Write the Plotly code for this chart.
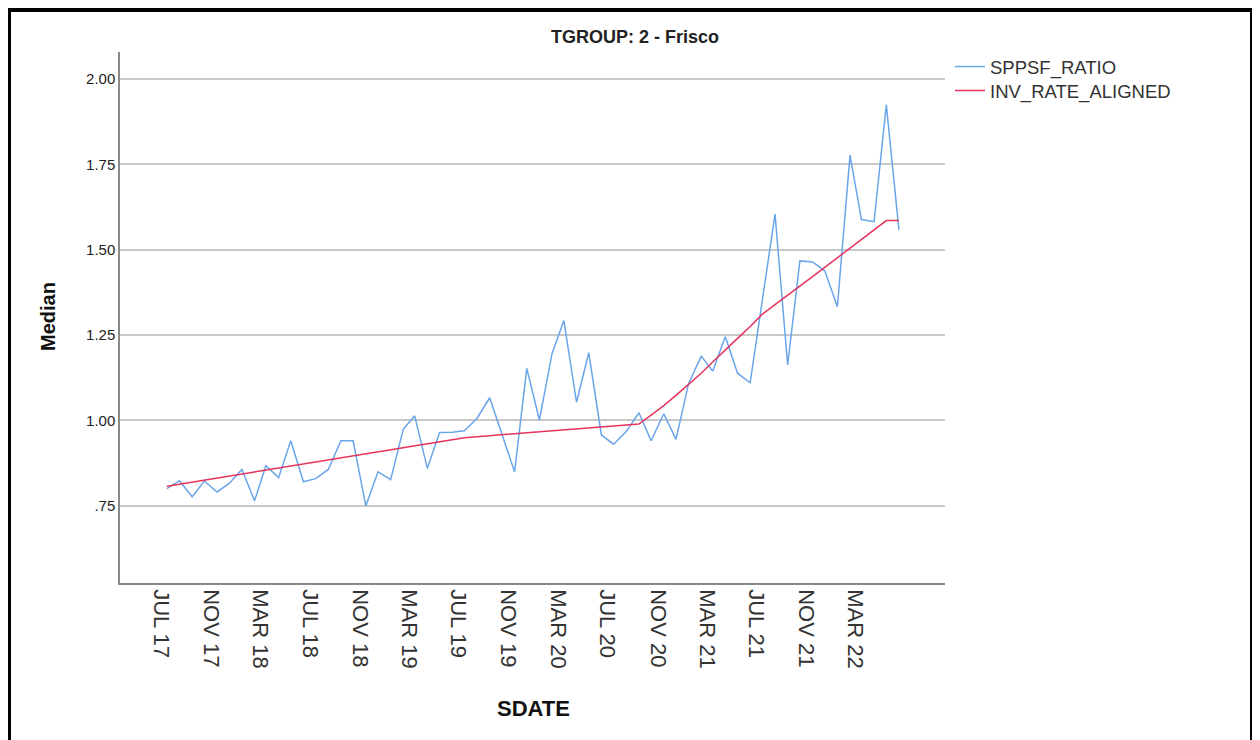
import plotly.graph_objects as go

# ---- data ----
months = [
    "2017-07", "2017-08", "2017-09", "2017-10", "2017-11", "2017-12",
    "2018-01", "2018-02", "2018-03", "2018-04", "2018-05", "2018-06",
    "2018-07", "2018-08", "2018-09", "2018-10", "2018-11", "2018-12",
    "2019-01", "2019-02", "2019-03", "2019-04", "2019-05", "2019-06",
    "2019-07", "2019-08", "2019-09", "2019-10", "2019-11", "2019-12",
    "2020-01", "2020-02", "2020-03", "2020-04", "2020-05", "2020-06",
    "2020-07", "2020-08", "2020-09", "2020-10", "2020-11", "2020-12",
    "2021-01", "2021-02", "2021-03", "2021-04", "2021-05", "2021-06",
    "2021-07", "2021-08", "2021-09", "2021-10", "2021-11", "2021-12",
    "2022-01", "2022-02", "2022-03", "2022-04", "2022-05", "2022-06",
]

sppsf_ratio = [
    0.800, 0.823, 0.776, 0.822, 0.790, 0.815, 0.856, 0.764, 0.867, 0.832,
    0.940, 0.820, 0.829, 0.856, 0.940, 0.940, 0.749, 0.849, 0.826, 0.974,
    1.013, 0.859, 0.964, 0.965, 0.969, 1.006, 1.066, 0.962, 0.849, 1.152,
    1.001, 1.196, 1.292, 1.053, 1.198, 0.957, 0.930, 0.967, 1.022, 0.940,
    1.019, 0.944, 1.108, 1.188, 1.144, 1.245, 1.138, 1.110, 1.357, 1.604,
    1.162, 1.467, 1.464, 1.438, 1.333, 1.777, 1.588, 1.582, 1.924, 1.558,
]

inv_rate_aligned = [
    0.807, 0.813, 0.819, 0.825, 0.831, 0.837, 0.843, 0.848, 0.854, 0.860,
    0.866, 0.872, 0.878, 0.884, 0.890, 0.896, 0.902, 0.908, 0.914, 0.919,
    0.925, 0.931, 0.937, 0.943, 0.949, 0.952, 0.955, 0.958, 0.961, 0.963,
    0.966, 0.969, 0.972, 0.975, 0.978, 0.980, 0.983, 0.986, 0.989, 1.015,
    1.043, 1.073, 1.105, 1.138, 1.171, 1.205, 1.240, 1.275, 1.311, 1.339,
    1.366, 1.394, 1.421, 1.448, 1.476, 1.503, 1.531, 1.558, 1.585, 1.585,
]

tick_months = ["2017-07", "2017-11", "2018-03", "2018-07", "2018-11", "2019-03",
               "2019-07", "2019-11", "2020-03", "2020-07", "2020-11", "2021-03",
               "2021-07", "2021-11", "2022-03"]
tick_labels = ["JUL 17", "NOV 17", "MAR 18", "JUL 18", "NOV 18", "MAR 19",
               "JUL 19", "NOV 19", "MAR 20", "JUL 20", "NOV 20", "MAR 21",
               "JUL 21", "NOV 21", "MAR 22"]

y_ticks = [0.75, 1.00, 1.25, 1.50, 1.75, 2.00]
y_tick_labels = [".75", "1.00", "1.25", "1.50", "1.75", "2.00"]

FONT = "Arial, 'Liberation Sans', sans-serif"

fig = go.Figure()
fig.add_trace(go.Scatter(x=months, y=sppsf_ratio, mode="lines", name="SPPSF_RATIO",
                         line=dict(color="#6aa5ea", width=1.5), legend="legend"))
fig.add_trace(go.Scatter(x=months, y=inv_rate_aligned, mode="lines", name="INV_RATE_ALIGNED",
                         line=dict(color="#e5335c", width=1.5), legend="legend2"))

W, H = 1260, 740
OFF = 8                      # page body margin added by the browser
L, R, T, B = 120, 945, 52, 583   # plot area in page pixels

def px_x(p):
    return (p - L) / (R - L)

def px_y(p):
    return (B - p) / (B - T)

legend_style = dict(xanchor="left", yanchor="top", font=dict(size=18.5, color="#333"),
                    bgcolor="rgba(0,0,0,0)")

fig.update_layout(
    width=W, height=H,
    margin=dict(l=L - OFF, r=W - R + OFF, t=T - OFF, b=H - B + OFF),
    paper_bgcolor="white", plot_bgcolor="white",
    font=dict(family=FONT, color="#222"),
    title=dict(text="<b>TGROUP: 2 - Frisco</b>", x=(635 - OFF) / W, xref="container",
               xanchor="center", y=1 - (37 - OFF) / H, yref="container", yanchor="middle",
               font=dict(size=18, color="#222")),
    showlegend=True,
    legend=dict(x=px_x(950), y=px_y(48), **legend_style),
    legend2=dict(x=px_x(950), y=px_y(72), **legend_style),
    xaxis=dict(type="date", range=["2017-03-08", "2022-09-22"],
               tickvals=tick_months, ticktext=tick_labels, tickangle=90,
               tickfont=dict(size=22, color="#333"), ticklabelshift=-6,
               showgrid=False, zeroline=False, showline=True,
               linecolor="#8a8a8a", linewidth=1.5, ticks=""),
    yaxis=dict(range=[0.5233, 2.079], tickvals=y_ticks, ticktext=y_tick_labels,
               tickfont=dict(size=15, color="#222"),
               showgrid=True, gridcolor="#c8c8c8", gridwidth=2,
               zeroline=False, showline=True, linecolor="#8a8a8a", linewidth=1.5,
               ticks=""),
    annotations=[
        dict(text="<b>Median</b>", textangle=-90, x=px_x(48), y=px_y(317),
             xref="paper", yref="paper", showarrow=False,
             font=dict(size=20, color="#111"), xanchor="center", yanchor="middle"),
        dict(text="<b>SDATE</b>", x=px_x(533), y=px_y(708),
             xref="paper", yref="paper", showarrow=False,
             font=dict(size=22, color="#111"), xanchor="center", yanchor="middle"),
    ],
    shapes=[
        dict(type="rect", xref="paper", yref="paper", x0=px_x(OFF), x1=px_x(11),
             y0=px_y(760), y1=px_y(OFF), fillcolor="black", line=dict(width=0)),
        dict(type="rect", xref="paper", yref="paper", x0=px_x(OFF), x1=px_x(1256),
             y0=px_y(12), y1=px_y(OFF), fillcolor="black", line=dict(width=0)),
        dict(type="rect", xref="paper", yref="paper", x0=px_x(1250), x1=px_x(1256),
             y0=px_y(760), y1=px_y(OFF), fillcolor="black", line=dict(width=0)),
    ],
)

fig.write_html("out.html")
